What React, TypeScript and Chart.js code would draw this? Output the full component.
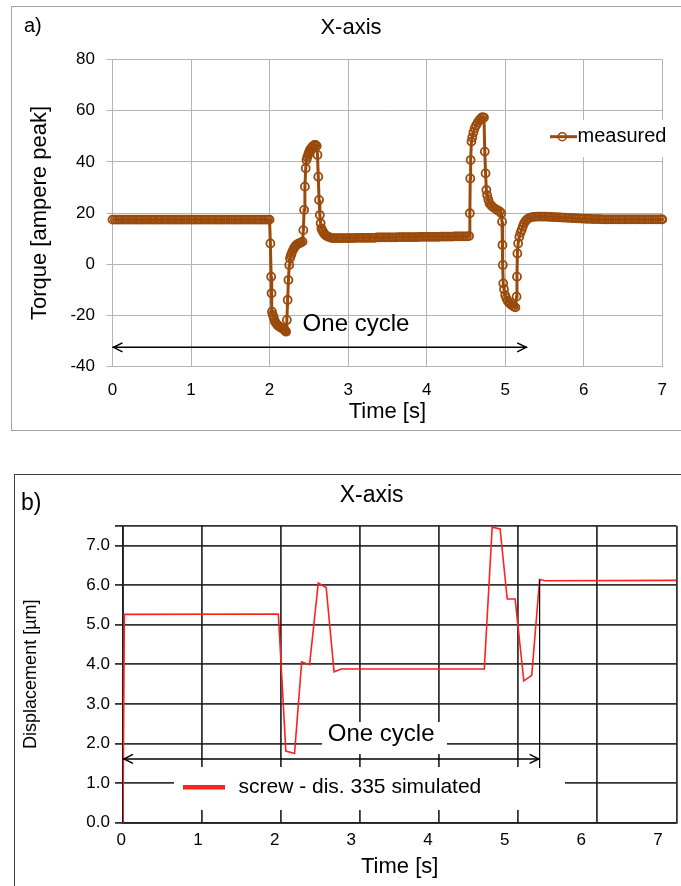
import { useEffect, useRef } from "react";
import { Chart, registerables } from "chart.js";
Chart.register(...registerables);

const FONT = "'Liberation Sans', Arial, Helvetica, sans-serif";
const BROWN = "#9a4b0c";
const RED = "#ff2020";

// ---------- Panel a) : measured torque ----------
const measuredTime = [
  // plateau before the cycle
  0, 0.03, 0.06, 0.09, 0.12, 0.15, 0.18, 0.21, 0.24, 0.27,
  0.3, 0.33, 0.36, 0.39, 0.42, 0.45, 0.48, 0.51, 0.54, 0.57,
  0.6, 0.63, 0.66, 0.69, 0.72, 0.75, 0.78, 0.81, 0.84, 0.87,
  0.9, 0.93, 0.96, 0.99, 1.02, 1.05, 1.08, 1.11, 1.14, 1.17,
  1.2, 1.23, 1.26, 1.29, 1.32, 1.35, 1.38, 1.41, 1.44, 1.47,
  1.5, 1.53, 1.56, 1.59, 1.62, 1.65, 1.68, 1.71, 1.74, 1.77,
  1.8, 1.83, 1.86, 1.89, 1.92, 1.95, 1.98, 2.0,
  // first move
  2.01, 2.02, 2.025, 2.03, 2.04, 2.05, 2.06, 2.07, 2.085, 2.1, 2.115, 2.13, 2.145, 2.16, 2.175, 2.19, 2.2, 2.21,
  2.22, 2.23, 2.24, 2.25, 2.26, 2.27, 2.28, 2.295, 2.31, 2.325, 2.34, 2.36, 2.38, 2.4, 2.42,
  2.43, 2.44, 2.45, 2.46, 2.47, 2.48, 2.49, 2.5, 2.51, 2.525, 2.54, 2.555, 2.57, 2.585, 2.6,
  2.61, 2.62, 2.63, 2.64, 2.65, 2.66, 2.67, 2.68, 2.695, 2.71, 2.73, 2.75, 2.775, 2.8,
  // middle plateau
  2.83, 2.86, 2.89, 2.92, 2.95, 2.98, 3.01, 3.04, 3.07,
  3.1, 3.13, 3.16, 3.19, 3.22, 3.25, 3.28, 3.31, 3.34,
  3.37, 3.4, 3.43, 3.46, 3.49, 3.52, 3.55, 3.58, 3.61,
  3.64, 3.67, 3.7, 3.73, 3.76, 3.79, 3.82, 3.85, 3.88,
  3.91, 3.94, 3.97, 4.0, 4.03, 4.06, 4.09, 4.12, 4.15,
  4.18, 4.21, 4.24, 4.27, 4.3, 4.33,
  4.36, 4.39, 4.42, 4.45, 4.48, 4.51,
  // return move
  4.54, 4.55, 4.555, 4.56, 4.57, 4.58, 4.595, 4.61, 4.63, 4.65, 4.67, 4.69, 4.71, 4.73,
  4.74, 4.75, 4.76, 4.77, 4.785, 4.8, 4.82, 4.84, 4.87, 4.9, 4.93, 4.95,
  4.96, 4.965, 4.97, 4.975, 4.985, 5.0, 5.015, 5.03, 5.05, 5.07, 5.09, 5.11, 5.13,
  5.145, 5.15, 5.155, 5.165, 5.18, 5.195, 5.21, 5.225, 5.24, 5.26, 5.28, 5.31, 5.34,
  // plateau after the cycle
  5.37, 5.4, 5.43, 5.46, 5.49, 5.52,
  5.55, 5.58, 5.61, 5.64, 5.67, 5.7,
  5.73, 5.76, 5.79, 5.82, 5.85, 5.88,
  5.91, 5.94, 5.97, 6.0, 6.03, 6.06,
  6.09, 6.12, 6.15, 6.18, 6.21, 6.24,
  6.27, 6.3, 6.33, 6.36, 6.39, 6.42, 6.45, 6.48, 6.51, 6.54, 6.57, 6.6, 6.63,
  6.66, 6.69, 6.72, 6.75, 6.78, 6.81, 6.84, 6.87, 6.9, 6.93, 6.96, 6.99, 7.0,
];
const measuredTorque = [
  17.4, 17.4, 17.4, 17.4, 17.4, 17.4, 17.4, 17.4, 17.4, 17.4,
  17.4, 17.4, 17.4, 17.4, 17.4, 17.4, 17.4, 17.4, 17.4, 17.4,
  17.4, 17.4, 17.4, 17.4, 17.4, 17.4, 17.4, 17.4, 17.4, 17.4,
  17.4, 17.4, 17.4, 17.4, 17.4, 17.4, 17.4, 17.4, 17.4, 17.4,
  17.4, 17.4, 17.4, 17.4, 17.4, 17.4, 17.4, 17.4, 17.4, 17.4,
  17.4, 17.4, 17.4, 17.4, 17.4, 17.4, 17.4, 17.4, 17.4, 17.4,
  17.4, 17.4, 17.4, 17.4, 17.4, 17.4, 17.4, 17.4,
  8.1, -4.9, -11.4, -18.6, -19.8, -20.5, -21.6, -22.5, -23.2, -23.8, -24.2, -24.5, -24.8, -25.1, -25.4, -25.7, -26.0, -26.4,
  -21.8, -14.0, -6.2, -0.3, 2.3, 3.3, 4.2, 5.3, 6.2, 6.9, 7.5, 7.9, 8.2, 8.5, 8.8,
  13.3, 21.2, 30.3, 37.5, 40.7, 41.8, 42.7, 43.6, 44.4, 45.1, 45.7, 46.2, 46.6, 46.6, 46.2,
  42.7, 34.2, 25.1, 19.2, 16.0, 14.0, 13.3, 12.7, 12.0, 11.4, 11.0, 10.7, 10.4, 10.2,
  10.2, 10.2, 10.2, 10.2, 10.2, 10.2, 10.2, 10.2, 10.2,
  10.3, 10.3, 10.3, 10.3, 10.3, 10.3, 10.3, 10.3, 10.3,
  10.5, 10.5, 10.5, 10.5, 10.5, 10.5, 10.5, 10.5, 10.5,
  10.6, 10.6, 10.6, 10.6, 10.6, 10.6, 10.6, 10.6, 10.6,
  10.7, 10.7, 10.7, 10.7, 10.7, 10.7, 10.7, 10.7, 10.7,
  10.8, 10.8, 10.8, 10.8, 10.8, 10.8,
  10.9, 10.9, 10.9, 10.9, 10.9, 10.9,
  11.0, 19.9, 33.5, 40.7, 47.9, 49.5, 51.5, 53.0, 54.3, 55.4, 56.3, 57.0, 57.5, 57.3,
  44.0, 35.5, 29.0, 27.0, 25.3, 23.8, 23.0, 22.4, 21.7, 21.1, 20.6, 19.9,
  16.6, 7.5, -0.3, -7.5, -9.8, -12.1, -13.3, -14.3, -15.1, -15.7, -16.2, -16.6, -16.9,
  -12.7, -4.9, 4.2, 8.1, 10.7, 12.3, 13.5, 14.8, 16.0, 16.9, 17.6, 18.1, 18.4,
  18.5, 18.6, 18.6, 18.6, 18.6, 18.6,
  18.5, 18.5, 18.4, 18.4, 18.3, 18.3,
  18.2, 18.2, 18.1, 18.1, 18.0, 18.0,
  17.9, 17.9, 17.8, 17.8, 17.7, 17.7,
  17.7, 17.6, 17.6, 17.6, 17.6, 17.5,
  17.5, 17.5, 17.5, 17.5, 17.5, 17.5, 17.5, 17.5, 17.5, 17.5, 17.5, 17.5, 17.5,
  17.5, 17.5, 17.5, 17.5, 17.5, 17.5, 17.5, 17.5, 17.5, 17.5, 17.5, 17.5, 17.5,
];
const timeTicks = [0, 1, 2, 3, 4, 5, 6, 7];
const torqueTicks = [-40, -20, 0, 20, 40, 60, 80];
const cycleA = { start: 0, end: 5.28, level: -32.5, textT: 3.1, textV: -23.4 };

// ---------- Panel b) : simulated displacement ----------
const simTime = [0, 0.017, 1.965, 2.06, 2.17, 2.26, 2.36, 2.47, 2.57, 2.67, 2.76, 4.57, 4.67, 4.77, 4.86, 4.96, 5.07, 5.17, 5.27, 5.34, 7.0];
const simDisplacement = [0, 5.26, 5.27, 1.81, 1.75, 4.06, 3.99, 6.05, 5.94, 3.81, 3.88, 3.88, 7.46, 7.42, 5.65, 5.65, 3.58, 3.72, 6.14, 6.11, 6.12];
const dispTicks = [0, 1, 2, 3, 4, 5, 6, 7];
const dispMax = 7.5;
const cycleB = { start: 0, end: 5.27, level: 1.61, markTop: 6.14, markBottom: 1.38, textT: 3.265, textV: 2.23 };
// label positions of the time axis in panel b (they drift slightly from the grid in the original figure)
const labelAxisB = { min: 0.022, max: 7.241 };

function drawDoubleArrow(ctx: CanvasRenderingContext2D, x1: number, x2: number, y: number) {
  ctx.save();
  ctx.strokeStyle = "#000";
  ctx.lineWidth = 1.5;
  ctx.beginPath();
  ctx.moveTo(x1, y);
  ctx.lineTo(x2, y);
  ctx.stroke();
  ctx.beginPath();
  ctx.moveTo(x1 + 10, y - 4.5);
  ctx.lineTo(x1 + 1, y);
  ctx.lineTo(x1 + 10, y + 4.5);
  ctx.moveTo(x2 - 10, y - 4.5);
  ctx.lineTo(x2 - 1, y);
  ctx.lineTo(x2 - 10, y + 4.5);
  ctx.stroke();
  ctx.restore();
}

function text(ctx: CanvasRenderingContext2D, s: string, x: number, y: number, size: number, align: CanvasTextAlign) {
  ctx.save();
  ctx.font = `${size}px ${FONT}`;
  ctx.fillStyle = "#000";
  ctx.textAlign = align;
  ctx.textBaseline = "middle";
  ctx.fillText(s, x, y);
  ctx.restore();
}

const annotA = {
  id: "annotA",
  afterDatasetsDraw(chart: any) {
    const { ctx, scales } = chart;
    const x = scales.x, y = scales.y;
    drawDoubleArrow(ctx, x.getPixelForValue(cycleA.start), x.getPixelForValue(cycleA.end), y.getPixelForValue(cycleA.level));
    text(ctx, "One cycle", x.getPixelForValue(cycleA.textT), y.getPixelForValue(cycleA.textV), 24, "center");
    // legend
    ctx.save();
    ctx.fillStyle = "#fff";
    ctx.fillRect(545, 120, 126, 37);
    ctx.strokeStyle = BROWN;
    ctx.lineWidth = 3;
    ctx.beginPath();
    ctx.moveTo(550, 136.7);
    ctx.lineTo(577, 136.7);
    ctx.stroke();
    ctx.lineWidth = 1.6;
    ctx.beginPath();
    ctx.arc(562.3, 136.7, 4, 0, Math.PI * 2);
    ctx.stroke();
    ctx.restore();
    text(ctx, "measured", 577.5, 136.7, 20, "left");
  },
  afterDraw(chart: any) {
    const { ctx } = chart;
    text(ctx, "a)", 24, 26, 20, "left");
    text(ctx, "X-axis", 351, 28, 22, "center");
  },
};

const annotB = {
  id: "annotB",
  beforeDatasetsDraw(chart: any) {
    const { ctx } = chart;
    ctx.save();
    ctx.fillStyle = "#fff";
    ctx.fillRect(174, 327, 391, 43); // legend box
    ctx.fillRect(322, 282, 125, 32); // "One cycle" box
    ctx.restore();
  },
  afterDatasetsDraw(chart: any) {
    const { ctx, scales } = chart;
    const x = scales.x, y = scales.y;
    const xe = x.getPixelForValue(cycleB.end);
    drawDoubleArrow(ctx, x.getPixelForValue(cycleB.start), xe, y.getPixelForValue(cycleB.level));
    ctx.save();
    ctx.strokeStyle = "#000";
    ctx.lineWidth = 1.2;
    ctx.beginPath();
    ctx.moveTo(xe, y.getPixelForValue(cycleB.markTop));
    ctx.lineTo(xe, y.getPixelForValue(cycleB.markBottom));
    ctx.stroke();
    ctx.restore();
    text(ctx, "One cycle", x.getPixelForValue(cycleB.textT), y.getPixelForValue(cycleB.textV), 24, "center");
    // legend
    ctx.save();
    ctx.strokeStyle = RED;
    ctx.lineWidth = 4.5;
    ctx.beginPath();
    ctx.moveTo(183, 347.3);
    ctx.lineTo(225, 347.3);
    ctx.stroke();
    ctx.restore();
    text(ctx, "screw - dis. 335 simulated", 238.5, 347.3, 21, "left");
  },
  afterDraw(chart: any) {
    const { ctx } = chart;
    text(ctx, "b)", 21, 64, 23, "left");
    text(ctx, "X-axis", 371.6, 56, 23, "center");
  },
};

export default function App() {
  const refA = useRef<HTMLCanvasElement>(null);
  const refB = useRef<HTMLCanvasElement>(null);

  useEffect(() => {
    const gridA = "#b3b3b3";
    const chartA = new Chart(refA.current!, {
      type: "line",
      data: {
        datasets: [
          {
            label: "measured",
            data: measuredTime.map((t, i) => ({ x: t, y: measuredTorque[i] })),
            borderColor: BROWN,
            borderWidth: 3,
            pointRadius: 4,
            pointBorderWidth: 1.8,
            pointBackgroundColor: "rgba(0,0,0,0)",
            pointBorderColor: BROWN,
            tension: 0,
            clip: false as any,
          },
        ],
      },
      options: {
        animation: false,
        responsive: false,
        events: [],
        layout: { padding: { top: 59.5, right: 8, left: 0, bottom: 0 } },
        plugins: { legend: { display: false }, title: { display: false }, tooltip: { enabled: false } },
        scales: {
          x: {
            type: "linear",
            min: 0,
            max: 7,
            afterBuildTicks: (ax: any) => {
              ax.ticks = timeTicks.map((v) => ({ value: v }));
            },
            ticks: { padding: 14, font: { family: FONT, size: 17 }, color: "#000", autoSkip: false, maxRotation: 0, callback: (v: any) => String(v) },
            grid: { color: gridA, lineWidth: 1, drawTicks: false },
            border: { color: gridA, width: 1 },
            title: { display: true, text: "Time [s]", font: { family: FONT, size: 22 }, color: "#000", padding: { top: 0, bottom: 14.8 } },
            afterFit: (s: any) => {
              s.height = 73.5;
            },
          },
          y: {
            type: "linear",
            min: -40,
            max: 80,
            afterBuildTicks: (ax: any) => {
              ax.ticks = torqueTicks.map((v) => ({ value: v }));
            },
            ticks: { padding: 11.5, font: { family: FONT, size: 17 }, color: "#000", callback: (v: any) => String(v) },
            grid: { color: gridA, lineWidth: 1, tickLength: 6 },
            border: { color: gridA, width: 1 },
            title: { display: true, text: "Torque [ampere peak]", font: { family: FONT, size: 22 }, color: "#000", padding: { top: 26.8, bottom: 0 } },
            afterFit: (s: any) => {
              s.width = 112.5;
            },
          },
        },
      } as any,
      plugins: [annotA],
    });

    const gridB = "rgba(30,30,30,0.9)";
    const chartB = new Chart(refB.current!, {
      type: "line",
      data: {
        datasets: [
          {
            label: "screw - dis. 335 simulated",
            data: simTime.map((t, i) => ({ x: t, y: simDisplacement[i] })),
            borderColor: RED,
            borderWidth: 1.6,
            pointRadius: 0,
            tension: 0,
          },
        ],
      },
      options: {
        animation: false,
        responsive: false,
        events: [],
        layout: { padding: { top: 85.7, right: 4.6, left: 0, bottom: 0 } },
        plugins: { legend: { display: false }, title: { display: false }, tooltip: { enabled: false } },
        scales: {
          x: {
            type: "linear",
            position: "bottom",
            weight: 0,
            min: 0,
            max: 7,
            afterBuildTicks: (ax: any) => {
              ax.ticks = timeTicks.map((v) => ({ value: v }));
            },
            ticks: { display: false },
            grid: { color: gridB, lineWidth: 1.8, drawTicks: false },
            border: { color: gridB, width: 1.8 },
            afterFit: (s: any) => {
              s.height = 0;
            },
          },
          xl: {
            type: "linear",
            position: "bottom",
            weight: 1,
            min: labelAxisB.min,
            max: labelAxisB.max,
            afterBuildTicks: (ax: any) => {
              ax.ticks = timeTicks.map((v) => ({ value: v }));
            },
            ticks: { padding: 7.1, font: { family: FONT, size: 17 }, color: "#000", autoSkip: false, maxRotation: 0, callback: (v: any) => String(v) },
            grid: { display: false, drawTicks: false },
            border: { display: false },
            title: { display: true, text: "Time [s]", font: { family: FONT, size: 22 }, color: "#000", padding: { top: 0, bottom: 6.1 } },
            afterFit: (s: any) => {
              s.height = 63.3;
            },
          },
          y: {
            type: "linear",
            min: 0,
            max: dispMax,
            afterBuildTicks: (ax: any) => {
              ax.ticks = [...dispTicks, dispMax].map((v) => ({ value: v }));
            },
            ticks: {
              padding: 5,
              font: { family: FONT, size: 17 },
              color: "#000",
              callback: (v: any) => (v === dispMax ? "" : Number(v).toFixed(1)),
            },
            grid: { color: gridB, lineWidth: 1.8, tickLength: 8 },
            border: { color: gridB, width: 1.8 },
            title: { display: true, text: "Displacement [µm]", font: { family: FONT, size: 18 }, color: "#000", padding: { top: 20.7, bottom: 0 } },
            afterFit: (s: any) => {
              s.width = 123;
            },
          },
        },
      } as any,
      plugins: [annotB],
    });

    return () => {
      chartA.destroy();
      chartB.destroy();
    };
  }, []);

  return (
    <div>
      <div
        style={{
          position: "absolute",
          left: 11,
          top: 6,
          width: 670,
          height: 425,
          borderLeft: "1.5px solid #a0a0a0",
          borderTop: "1.5px solid #a0a0a0",
          borderBottom: "1.5px solid #a0a0a0",
          boxSizing: "border-box",
        }}
      />
      <div
        style={{
          position: "absolute",
          left: 14,
          top: 474,
          width: 667,
          height: 412,
          borderLeft: "1.5px solid #404040",
          borderTop: "1.5px solid #404040",
          boxSizing: "border-box",
        }}
      />
      <canvas ref={refA} width={681} height={440} style={{ position: "absolute", left: 0, top: 0 }} />
      <canvas ref={refB} width={681} height={446} style={{ position: "absolute", left: 0, top: 440 }} />
    </div>
  );
}
